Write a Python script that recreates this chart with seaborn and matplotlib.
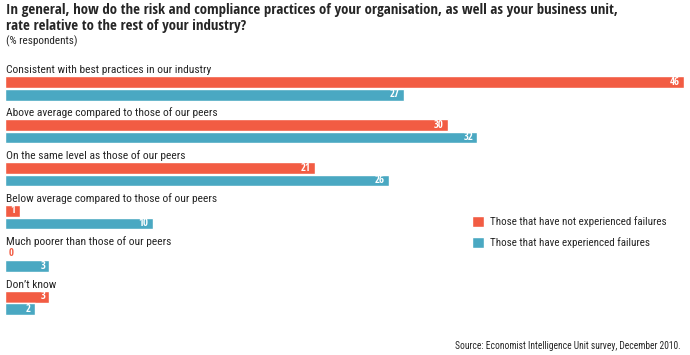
import matplotlib
matplotlib.use("Agg")
import matplotlib.pyplot as plt
import seaborn as sns
import pandas as pd
from matplotlib import font_manager

categories = [
    "Consistent with best practices in our industry",
    "Above average compared to those of our peers",
    "On the same level as those of our peers",
    "Below average compared to those of our peers",
    "Much poorer than those of our peers",
    "Don\u2019t know",
]
series_names = [
    "Those that have not experienced failures",
    "Those that have experienced failures",
]
not_failed = [46, 30, 21, 1, 0, 3]
failed = [27, 32, 26, 10, 3, 2]

title_lines = [
    "In general, how do the risk and compliance practices of your organisation, as well as your business unit,",
    "rate relative to the rest of your industry?",
]
subtitle = "(% respondents)"
source = "Source: Economist Intelligence Unit survey, December 2010."

colors = ["#F25C43", "#4AA8C2"]
text_color = "#262626"

sns.set_theme(style="white")

fig = plt.figure(figsize=(6.9, 3.55), dpi=100)
renderer = fig.canvas.get_renderer()

ttf = font_manager.fontManager.ttflist
preferred = ["Liberation Sans Narrow", "DejaVu Sans Condensed", "Roboto Condensed",
             "Open Sans Condensed", "Lato", "Roboto", "Inter", "Noto Sans", "Open Sans"]


def has_weight(name, weights):
    return any(f.name == name and f.weight in weights for f in ttf)


bold_cands = [n for n in preferred if has_weight(n, (700, "bold"))] or ["DejaVu Sans"]
reg_cands = [n for n in preferred if has_weight(n, (400, "normal", "regular", "book"))] or ["DejaVu Sans"]


def width_px(s, fam, size, weight="normal"):
    t = fig.text(0, 0, s, fontsize=size, family=fam, fontweight=weight)
    w = t.get_window_extent(renderer).width
    t.remove()
    return w


bold_fam = [min(bold_cands, key=lambda f: width_px(title_lines[0], f, 10, "bold")), "DejaVu Sans"]
reg_fam = [min(reg_cands, key=lambda f: width_px(categories[0], f, 10)), "DejaVu Sans"]
plt.rcParams["font.family"] = reg_fam


def fit(s, target, fam, weight="normal"):
    return 10 * target / width_px(s, fam, 10, weight)


title_fs = min(fit(title_lines[0], 612, bold_fam, "bold"), 11)
cat_fs = min(fit(categories[1], 210, reg_fam), 8.5)
src_fs = min(fit(source, 224, reg_fam), 8.5)
leg_fs = min(fit(series_names[0], 176, reg_fam), 8.5)
sub_fs = min(fit(subtitle, 71, reg_fam), 8.5)
val_fs = title_fs * 0.72

df = pd.DataFrame({
    "category": categories * 2,
    "value": not_failed + failed,
    "series": [series_names[0]] * len(categories) + [series_names[1]] * len(categories),
})

ax = fig.add_axes([0, 0, 1, 1])
sns.barplot(data=df, x="value", y="category", hue="series", orient="h",
            palette=colors, width=0.58, gap=0.06, ax=ax, saturation=1)

px_per_unit_y = 42.9
ax.set_ylim((355 - 88.5) / px_per_unit_y, -88.5 / px_per_unit_y)
ppx = 679 / 46
ax.set_xlim(-5 / ppx, (690 - 5) / ppx)
ax.axis("off")

for i, c in enumerate(categories):
    ax.text(0.05, i - 0.43, c, ha="left", va="center", fontsize=cat_fs,
            family=reg_fam, color=text_color)

for cont, vals, col in zip(ax.containers, [not_failed, failed], colors):
    for rect, v in zip(cont.patches, vals):
        yc = rect.get_y() + rect.get_height() / 2
        if v == 0:
            ax.annotate(str(v), (0, yc), xytext=(2.5, 0), textcoords="offset points",
                        ha="left", va="center", fontsize=val_fs, fontweight="bold",
                        family=bold_fam, color=col)
        else:
            ax.annotate(str(v), (rect.get_width(), yc), xytext=(-3, 0), textcoords="offset points",
                        ha="right", va="center", fontsize=val_fs, fontweight="bold",
                        family=bold_fam, color="white")

sns.move_legend(ax, "upper left", bbox_to_anchor=(472 / 690, 1 - 216 / 355), frameon=False,
                title=None, prop={"family": reg_fam, "size": leg_fs},
                handlelength=1.1, handleheight=1.1,
                labelspacing=0.9, handletextpad=0.5, borderpad=0, borderaxespad=0)
for t in ax.get_legend().get_texts():
    t.set_color(text_color)

fig.text(6 / 690, 1 - 10 / 355, title_lines[0], ha="left", va="center",
         fontsize=title_fs, fontweight="bold", family=bold_fam, color=text_color)
fig.text(6 / 690, 1 - 26 / 355, title_lines[1], ha="left", va="center",
         fontsize=title_fs, fontweight="bold", family=bold_fam, color=text_color)
fig.text(6 / 690, 1 - 41 / 355, subtitle, ha="left", va="center", fontsize=sub_fs,
         family=reg_fam, color=text_color)
fig.text(681 / 690, 1 - 346 / 355, source, ha="right", va="center", fontsize=src_fs,
         family=reg_fam, color=text_color)

fig.savefig("out.png", dpi=100, facecolor="white")
